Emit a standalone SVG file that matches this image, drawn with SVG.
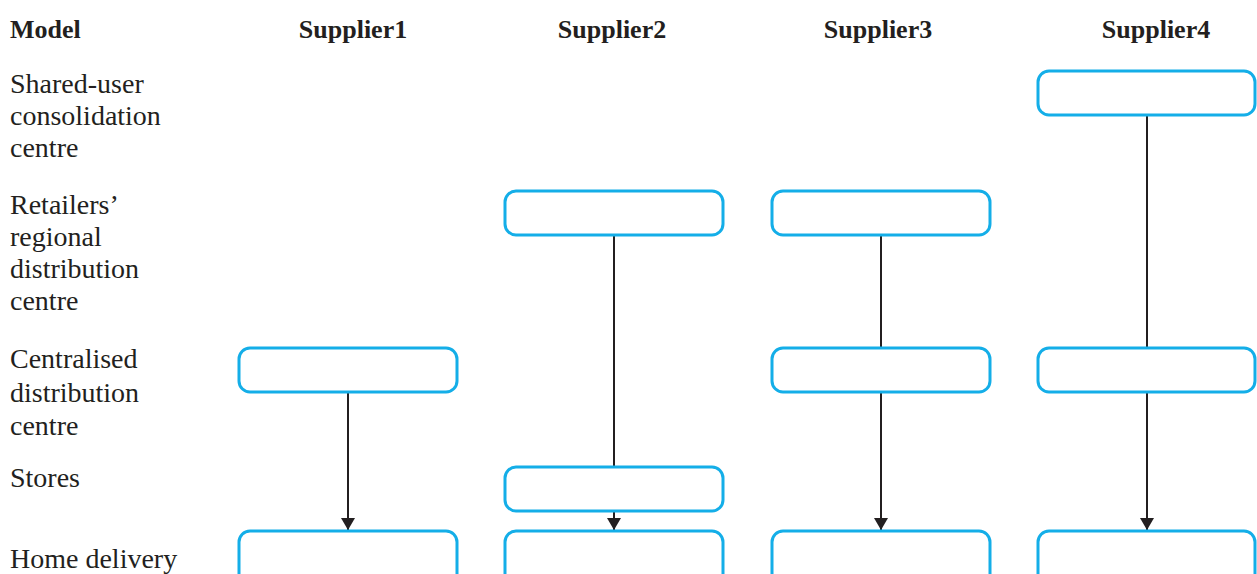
<svg xmlns="http://www.w3.org/2000/svg" width="1257" height="574" viewBox="0 0 1257 574">
  <style>
    .hdr { font-family: "Liberation Serif", "Times New Roman", serif; font-weight: bold; font-size: 26px; fill: #231f20; }
    .lbl { font-family: "Liberation Serif", "Times New Roman", serif; font-size: 28px; fill: #231f20; }
    .box { fill: #ffffff; stroke: #14aee8; stroke-width: 3; }
    .link { stroke: #231f20; stroke-width: 2; fill: none; }
    .arrow { stroke: #231f20; stroke-width: 2; fill: none; marker-end: url(#head); }
  </style>
  <defs>
    <marker id="head" viewBox="0 0 12 14" refX="12" refY="7" markerWidth="12" markerHeight="14" markerUnits="userSpaceOnUse" orient="auto">
      <path d="M0,0 L12,7 L0,14 Z" fill="#231f20"/>
    </marker>
  </defs>
  <rect width="1257" height="574" fill="#ffffff"/>

  <!-- column headings -->
  <g id="headings">
    <text class="hdr" x="10" y="38">Model</text>
    <text class="hdr" x="353" y="38" text-anchor="middle">Supplier1</text>
    <text class="hdr" x="612" y="38" text-anchor="middle">Supplier2</text>
    <text class="hdr" x="878" y="38" text-anchor="middle">Supplier3</text>
    <text class="hdr" x="1156" y="38" text-anchor="middle">Supplier4</text>
  </g>

  <!-- row labels -->
  <g id="row-labels">
    <text class="lbl" x="10" y="93">Shared-user</text>
    <text class="lbl" x="10" y="125">consolidation</text>
    <text class="lbl" x="10" y="157">centre</text>
    <text class="lbl" x="10" y="214">Retailers’</text>
    <text class="lbl" x="10" y="246">regional</text>
    <text class="lbl" x="10" y="278">distribution</text>
    <text class="lbl" x="10" y="310">centre</text>
    <text class="lbl" x="10" y="368">Centralised</text>
    <text class="lbl" x="10" y="402">distribution</text>
    <text class="lbl" x="10" y="435">centre</text>
    <text class="lbl" x="10" y="487">Stores</text>
    <text class="lbl" x="10" y="568">Home delivery</text>
  </g>

  <!-- connectors -->
  <g id="connectors">
    <!-- Supplier1 -->
    <line class="arrow" x1="348" y1="392" x2="348" y2="530"/>
    <!-- Supplier2 -->
    <line class="link" x1="614" y1="235" x2="614" y2="467"/>
    <line class="arrow" x1="614" y1="511" x2="614" y2="530"/>
    <!-- Supplier3 -->
    <line class="link" x1="881" y1="235" x2="881" y2="348"/>
    <line class="arrow" x1="881" y1="392" x2="881" y2="530"/>
    <!-- Supplier4 -->
    <line class="link" x1="1147" y1="115" x2="1147" y2="348"/>
    <line class="arrow" x1="1147" y1="392" x2="1147" y2="530"/>
  </g>

  <!-- Supplier1 stages -->
  <g id="s1-centralised"><rect class="box" x="239" y="348" width="218" height="44" rx="11"/></g>
  <g id="s1-home"><rect class="box" x="239" y="531" width="218" height="60" rx="11"/></g>

  <!-- Supplier2 stages -->
  <g id="s2-regional"><rect class="box" x="505" y="191" width="218" height="44" rx="11"/></g>
  <g id="s2-stores"><rect class="box" x="505" y="467" width="218" height="44" rx="11"/></g>
  <g id="s2-home"><rect class="box" x="505" y="531" width="218" height="60" rx="11"/></g>

  <!-- Supplier3 stages -->
  <g id="s3-regional"><rect class="box" x="772" y="191" width="218" height="44" rx="11"/></g>
  <g id="s3-centralised"><rect class="box" x="772" y="348" width="218" height="44" rx="11"/></g>
  <g id="s3-home"><rect class="box" x="772" y="531" width="218" height="60" rx="11"/></g>

  <!-- Supplier4 stages -->
  <g id="s4-shared"><rect class="box" x="1038" y="71" width="217" height="44" rx="11"/></g>
  <g id="s4-centralised"><rect class="box" x="1038" y="348" width="217" height="44" rx="11"/></g>
  <g id="s4-home"><rect class="box" x="1038" y="531" width="217" height="60" rx="11"/></g>
</svg>
